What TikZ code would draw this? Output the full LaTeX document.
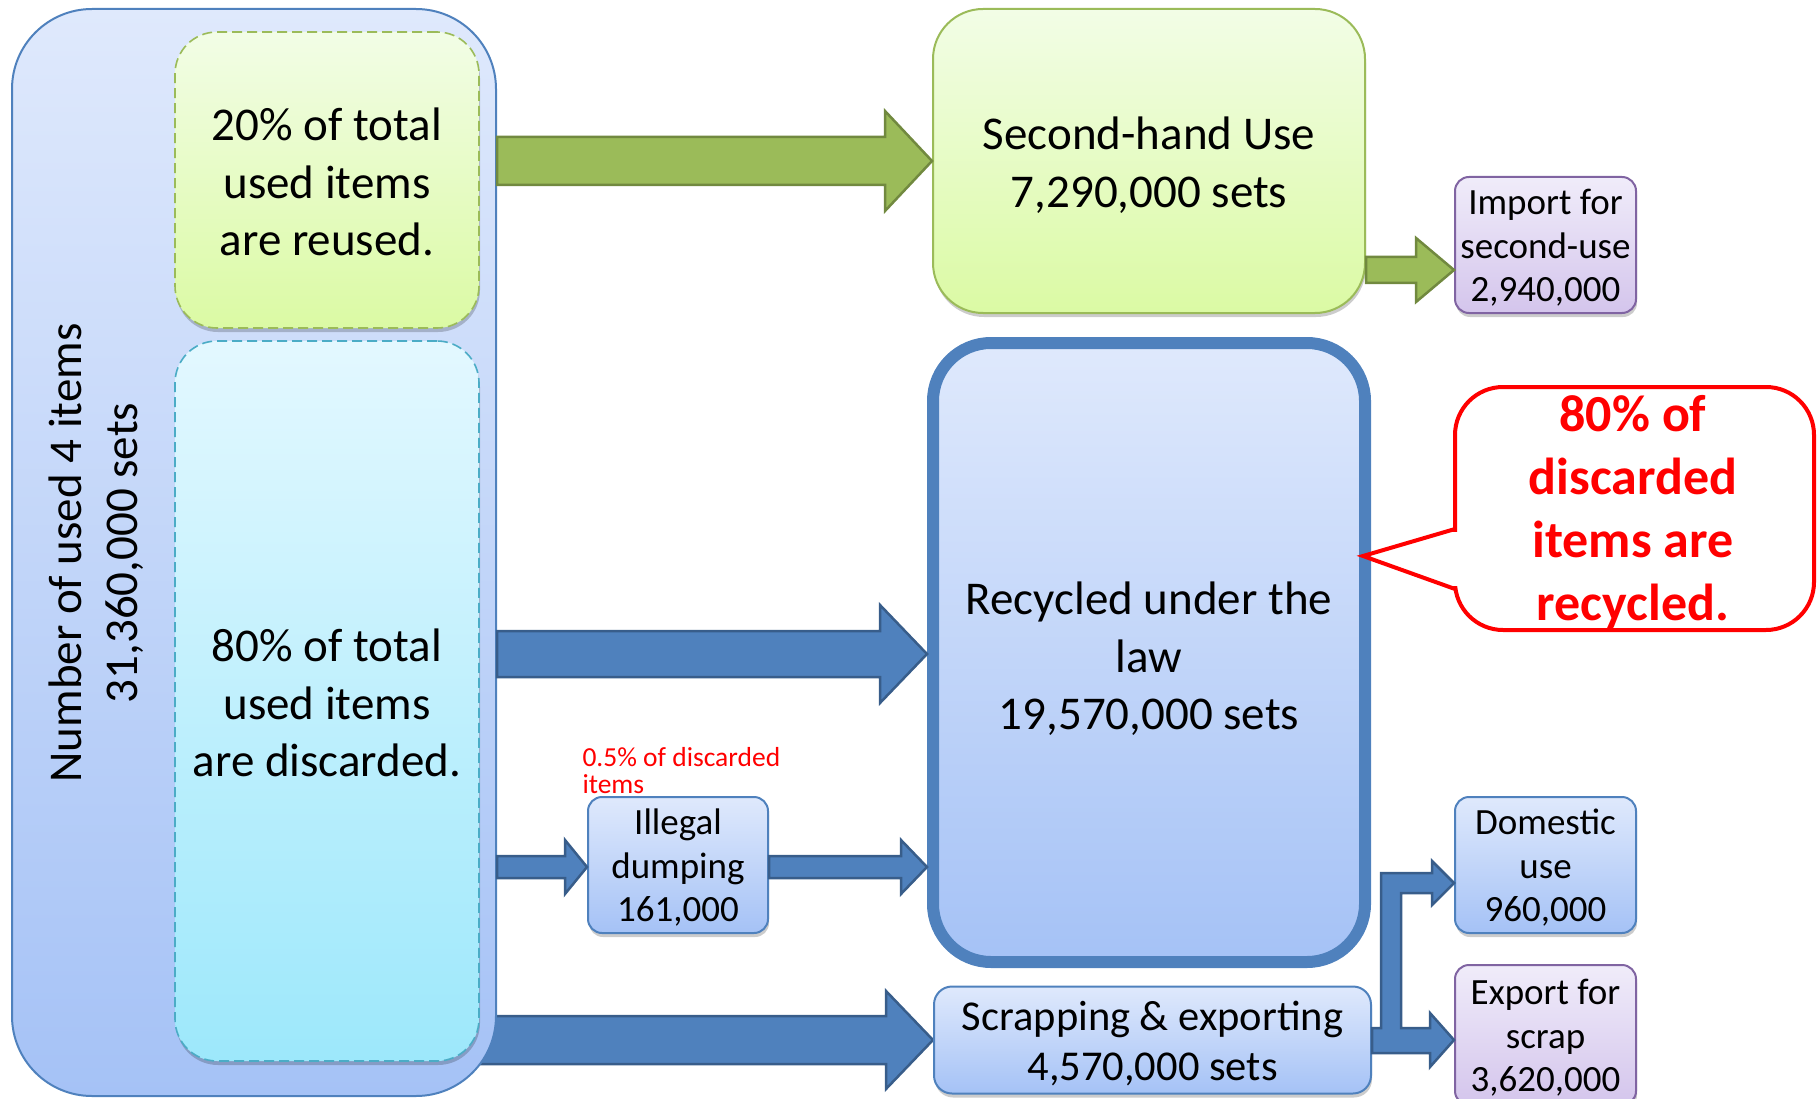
\documentclass[tikz,border=0pt]{standalone}
\usepackage{fontspec}
\setmainfont{Carlito}
\usetikzlibrary{calc,shadows}
\pgfdeclarelayer{background}
\pgfsetlayers{background,main}
\definecolor{bluebd}{HTML}{4F81BD}
\definecolor{blueedge}{HTML}{385D8A}
\definecolor{bluetop}{HTML}{DFE9FC}
\definecolor{bluebot}{HTML}{A5C2F6}
\definecolor{greenbd}{HTML}{9BBB59}
\definecolor{greenedge}{HTML}{71893F}
\definecolor{greentop}{HTML}{F2FDE6}
\definecolor{greenbot}{HTML}{DBFAA4}
\definecolor{cyanbd}{HTML}{4BACC6}
\definecolor{cyantop}{HTML}{E3F8FF}
\definecolor{cyanbot}{HTML}{9DE8FB}
\definecolor{purplebd}{HTML}{8064A2}
\definecolor{purpletop}{HTML}{F0ECFA}
\definecolor{purplebot}{HTML}{D4C5EC}
\newcommand\blockarrow[7]{%
  \path[#1] let \p1=(#2), \p2=(#3) in
    (\x1,{-(#4)+(#5)}) -- ({\x2-(#7)},{-(#4)+(#5)}) -- ({\x2-(#7)},{-(#4)+(#6)})
    -- (\x2,{-(#4)}) -- ({\x2-(#7)},{-(#4)-(#6)}) -- ({\x2-(#7)},{-(#4)-(#5)})
    -- (\x1,{-(#4)-(#5)}) -- cycle;}
\begin{document}
\begin{tikzpicture}[x=1pt,y=1pt,
  box/.style={draw, rectangle, inner sep=0pt, align=center},
  txt/.style={align=center, inner sep=0pt},
  bigfont/.style={font=\fontsize{47}{57.5}\selectfont},
  smallfont/.style={font=\fontsize{37}{43.5}\selectfont},
  shade/.style={drop shadow={shadow xshift=1pt, shadow yshift=-4pt, opacity=0.2, fill=black}},
  bluebox/.style={box, draw=bluebd, line width=2pt, top color=bluetop, bottom color=bluebot},
  greenbox/.style={box, draw=greenbd, line width=2pt, top color=greentop, bottom color=greenbot},
  purplebox/.style={box, draw=purplebd, line width=2pt, top color=purpletop, bottom color=purplebot},
  dashbox/.style={box, line width=1.6pt, dash pattern=on 10pt off 5pt, rounded corners=42pt, minimum width=304pt},
  bluearrow/.style={fill=bluebd, draw=blueedge, line width=2.5pt, line join=miter},
  greenarrow/.style={fill=greenbd, draw=greenedge, line width=2.5pt, line join=miter}]
\useasboundingbox (0,0) rectangle (1817,-1099);
\clip (0,0) rectangle (1817,-1099);

% outer box
\node[bluebox, rounded corners=80pt, minimum width=484pt, minimum height=1087pt] (outer) at (254,-552.5) {};
\node[rotate=90, align=center, font=\fontsize{47}{56}\selectfont] (title) at (96,-553)
  {Number of used 4 items\\31,360,000 sets};

\node[dashbox, shade, draw=greenbd, top color=greentop, bottom color=greenbot, minimum height=296pt] (reuse) at (327,-180) {};
\node[txt, bigfont] (reuse-t) at (327,-182) {20\% of total\\used items\\are reused.};
\node[dashbox, shade, draw=cyanbd, top color=cyantop, bottom color=cyanbot, minimum height=720pt] (discard) at (327,-701) {};
\node[txt, bigfont] (discard-t) at (327,-703) {80\% of total\\used items\\are discarded.};

% right side boxes
\node[greenbox, shade, rounded corners=50pt, minimum width=432pt, minimum height=304pt] (second) at (1149,-161) {};
\node[txt, bigfont] (second-t) at (1149,-165) {Second-hand Use\\7,290,000 sets};
\node[purplebox, shade, rounded corners=14pt, minimum width=181pt, minimum height=136pt] (import) at (1545.5,-245) {};
\node[txt, smallfont] (import-t) at (1545.5,-248) {Import for\\second-use\\2,940,000};
\node[box, shade, draw=bluebd, line width=12pt, top color=bluetop, bottom color=bluebot, rounded corners=58pt,
  minimum width=432pt, minimum height=619pt] (recycled) at (1149,-652.5) {};
\node[txt, bigfont] (recycled-t) at (1149,-659) {Recycled under the\\law\\19,570,000 sets};
\node[bluebox, shade, rounded corners=18pt, minimum width=437pt, minimum height=107pt] (scrap) at (1152.5,-1040) {};
\node[txt, font=\fontsize{42.5}{50}\selectfont] (scrap-t) at (1152.5,-1044) {Scrapping \& exporting\\4,570,000 sets};
\node[bluebox, shade, rounded corners=14pt, minimum width=180pt, minimum height=136pt] (illegal) at (678,-865) {};
\node[txt, smallfont] (illegal-t) at (678,-868) {Illegal\\dumping\\161,000};
\node[bluebox, shade, rounded corners=14pt, minimum width=181pt, minimum height=136pt] (domestic) at (1545.5,-865) {};
\node[txt, smallfont] (domestic-t) at (1545.5,-868) {Domestic\\use\\960,000};
\node[purplebox, shade, rounded corners=14pt, minimum width=181pt, minimum height=140pt] (export) at (1545.5,-1035) {};
\node[txt, smallfont] (export-t) at (1545.5,-1038) {Export for\\scrap\\3,620,000};

\node[anchor=west, align=left, text=red, font=\fontsize{27.5}{27}\selectfont] (note) at (579,-771)
  {0.5\% of discarded\\items};

% callout
\node[box, draw=red, line width=4pt, fill=white, rounded corners=48pt, minimum width=359pt, minimum height=243pt] (callout) at (1634.5,-508.5) {};
\fill[white] (1450,-532) rectangle (1460,-586);
\draw[red, line width=4pt, line join=miter] (1455,-529) -- (1363,-556) -- (1455,-589);
\node[align=center, text=red, font=\bfseries\fontsize{52}{63}\selectfont] (calltext) at (1633,-512)
  {80\% of\\discarded\\items are\\recycled.};

% arrows
\begin{pgfonlayer}{background}
\blockarrow{bluearrow}{$(outer.east)+(-70,0)$}{scrap.west}{1040}{24}{49}{47}
\end{pgfonlayer}
\blockarrow{greenarrow}{outer.east}{second.west}{161}{24}{50}{47}
\blockarrow{greenarrow}{second.east}{import.west}{270}{13}{32}{38}
\blockarrow{bluearrow}{outer.east}{recycled.west}{654}{23}{49}{47}
\blockarrow{bluearrow}{outer.east}{illegal.west}{867}{11}{27}{22}
\blockarrow{bluearrow}{illegal.east}{recycled.west}{867}{11}{27}{26}
\path[bluearrow] let \p1=(scrap.east), \p2=(domestic.west), \p3=(export.west) in
  (\x1,-1028) -- (1381,-1028) -- (1381,-873) -- ({\x2-22},-873) -- ({\x2-22},-861)
  -- (\x2,-883) -- ({\x2-22},-905) -- ({\x2-22},-893) -- (1401,-893) -- (1401,-1028)
  -- ({\x3-24},-1028) -- ({\x3-24},-1013) -- (\x3,-1040) -- ({\x3-24},-1067)
  -- ({\x3-24},-1053) -- (\x1,-1053) -- cycle;
\end{tikzpicture}
\end{document}
